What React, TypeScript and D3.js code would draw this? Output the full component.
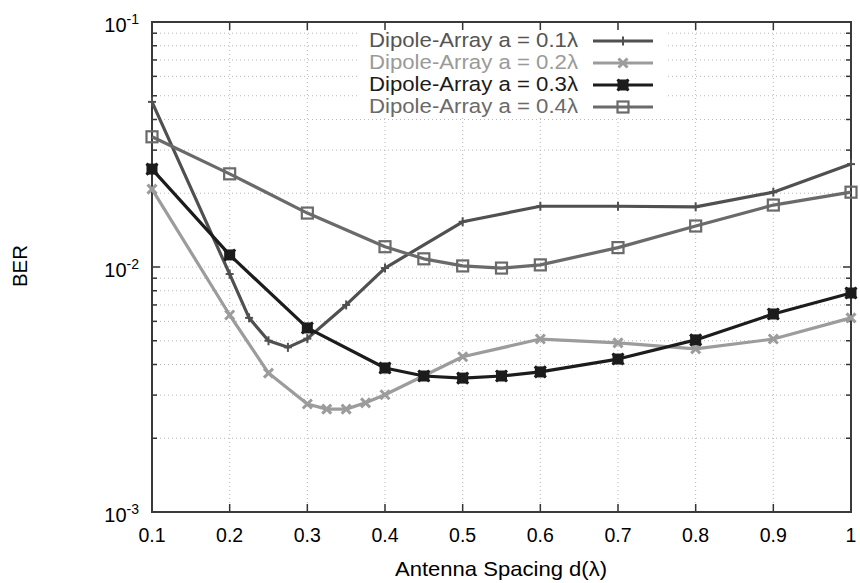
import React from 'react';
import * as d3 from 'd3';

const xs1 = [0.1, 0.2, 0.225, 0.25, 0.275, 0.3, 0.35, 0.4, 0.5, 0.6, 0.7, 0.8, 0.9, 1.0];
const ber1 = [0.0472, 0.00936, 0.0062, 0.005, 0.0047, 0.0051, 0.007, 0.0099, 0.0153, 0.0177, 0.0177, 0.0176, 0.0202, 0.0263];
const xs2 = [0.1, 0.2, 0.25, 0.3, 0.325, 0.35, 0.375, 0.4, 0.5, 0.6, 0.7, 0.8, 0.9, 1.0];
const ber2 = [0.0208, 0.00637, 0.00369, 0.00276, 0.00263, 0.00263, 0.00279, 0.00301, 0.0043, 0.00508, 0.0049, 0.00463, 0.00508, 0.0062];
const xs3 = [0.1, 0.2, 0.3, 0.4, 0.45, 0.5, 0.55, 0.6, 0.7, 0.8, 0.9, 1.0];
const ber3 = [0.0251, 0.0112, 0.00564, 0.00387, 0.00359, 0.00352, 0.00359, 0.00373, 0.00421, 0.00504, 0.00643, 0.00783];
const xs4 = [0.1, 0.2, 0.3, 0.4, 0.45, 0.5, 0.55, 0.6, 0.7, 0.8, 0.9, 1.0];
const ber4 = [0.034, 0.024, 0.0166, 0.0121, 0.0108, 0.0101, 0.0099, 0.0102, 0.012, 0.0147, 0.0179, 0.0202];

const seriesNames = ['0.1', '0.2', '0.3', '0.4'];
const xTicks = [0.1, 0.2, 0.3, 0.4, 0.5, 0.6, 0.7, 0.8, 0.9, 1];
const yExponents = [-1, -2, -3];

const W = 860;
const H = 583;
const left = 152, right = 851, top = 22, bottom = 512;
const font = '"Liberation Sans", Arial, sans-serif';

const series = [
  { xs: xs1, ys: ber1, color: '#505050', text: '#555', marker: 'plus' },
  { xs: xs2, ys: ber2, color: '#9c9c9c', text: '#9a9a9a', marker: 'cross' },
  { xs: xs3, ys: ber3, color: '#1c1c1c', text: '#1c1c1c', marker: 'star' },
  { xs: xs4, ys: ber4, color: '#6a6a6a', text: '#6a6a6a', marker: 'square' },
];

function Marker({ type, x, y, color }: { type: string; x: number; y: number; color: string }) {
  if (type === 'plus') {
    return (
      <g stroke={color} strokeWidth={2}>
        <line x1={x - 4} x2={x + 4} y1={y} y2={y} />
        <line x1={x} x2={x} y1={y - 4.5} y2={y + 4.5} />
      </g>
    );
  }
  if (type === 'cross') {
    return (
      <g stroke={color} strokeWidth={3}>
        <line x1={x - 4.5} x2={x + 4.5} y1={y - 4.5} y2={y + 4.5} />
        <line x1={x - 4.5} x2={x + 4.5} y1={y + 4.5} y2={y - 4.5} />
      </g>
    );
  }
  if (type === 'star') {
    return (
      <g stroke={color} strokeWidth={3} fill={color}>
        <rect x={x - 4} y={y - 4} width={8} height={8} />
        <line x1={x - 5.5} x2={x + 5.5} y1={y - 5.5} y2={y + 5.5} />
        <line x1={x - 5.5} x2={x + 5.5} y1={y + 5.5} y2={y - 5.5} />
      </g>
    );
  }
  return <rect x={x - 5.5} y={y - 5.5} width={11} height={11} fill="none" stroke={color} strokeWidth={2.2} />;
}

export default function App() {
  const x = d3.scaleLinear().domain([0.1, 1]).range([left, right]);
  const y = d3.scaleLog().domain([1e-3, 1e-1]).range([bottom, top]);

  const minor: number[] = [];
  [-3, -2].forEach((e) => {
    for (let m = 2; m <= 9; m++) minor.push(m * Math.pow(10, e));
  });

  const line = d3.line<[number, number]>().x((d) => x(d[0])).y((d) => y(d[1]));

  return (
    <svg width={W} height={H} style={{ position: 'fixed', left: 0, top: 0, background: '#fff' }}>
      {/* grid */}
      <g stroke="#b8b8b8" strokeWidth={1} strokeDasharray="1,3">
        {xTicks.slice(1, -1).map((t) => (
          <line key={'gx' + t} x1={x(t)} x2={x(t)} y1={top} y2={bottom} />
        ))}
        {minor.map((v) => (
          <line key={'gy' + v} x1={left} x2={right} y1={y(v)} y2={y(v)} />
        ))}
        <line x1={left} x2={right} y1={y(1e-2)} y2={y(1e-2)} />
      </g>

      {/* legend background hides the grid */}
      <rect x={360} y={29} width={306} height={88} fill="#fff" />

      {/* ticks */}
      <g stroke="#333" strokeWidth={1.5}>
        {xTicks.map((t) => (
          <g key={'tx' + t}>
            <line x1={x(t)} x2={x(t)} y1={bottom} y2={bottom - 8} />
            <line x1={x(t)} x2={x(t)} y1={top} y2={top + 8} />
          </g>
        ))}
        {yExponents.map((e) => (
          <g key={'ty' + e}>
            <line x1={left} x2={left + 8} y1={y(Math.pow(10, e))} y2={y(Math.pow(10, e))} />
            <line x1={right} x2={right - 8} y1={y(Math.pow(10, e))} y2={y(Math.pow(10, e))} />
          </g>
        ))}
        {minor.map((v) => (
          <g key={'tm' + v}>
            <line x1={left} x2={left + 5} y1={y(v)} y2={y(v)} />
            <line x1={right} x2={right - 5} y1={y(v)} y2={y(v)} />
          </g>
        ))}
      </g>

      {/* frame */}
      <rect x={left} y={top} width={right - left} height={bottom - top} fill="none" stroke="#3a3a3a" strokeWidth={2} />

      {/* tick labels */}
      <g fontFamily={font} fill="#000">
        {xTicks.map((t) => (
          <text key={'lx' + t} x={x(t)} y={542} textAnchor="middle" fontSize={19.5}>
            {t === 1 ? '1' : t.toFixed(1)}
          </text>
        ))}
        {yExponents.map((e) => (
          <text key={'ly' + e} x={139} y={y(Math.pow(10, e)) + 10} textAnchor="end" fontSize={20}>
            10<tspan fontSize={14} dy={-8}>{e}</tspan>
          </text>
        ))}
      </g>

      {/* axis titles */}
      <text x={501} y={576} textAnchor="middle" fontFamily={font} fontSize={21} textLength={212} lengthAdjust="spacingAndGlyphs">
        Antenna Spacing d(λ)
      </text>
      <text transform="translate(27,266) rotate(-90)" textAnchor="middle" fontFamily={font} fontSize={20.5}>
        BER
      </text>

      {/* series */}
      {series.map((s, i) => {
        const pts = s.xs.map((v, j) => [v, s.ys[j]] as [number, number]);
        return (
          <g key={'s' + i}>
            <path d={line(pts) || ''} fill="none" stroke={s.color} strokeWidth={3.2} strokeLinejoin="round" />
            {pts.map((p, j) => (
              <Marker key={j} type={s.marker} x={x(p[0])} y={y(p[1])} color={s.color} />
            ))}
          </g>
        );
      })}

      {/* legend */}
      {series.map((s, i) => {
        const ly = 41 + i * 22;
        return (
          <g key={'lg' + i}>
            <text x={578} y={ly + 6} textAnchor="end" fontFamily={font} fontSize={20.5} fill={s.text} textLength={209} lengthAdjust="spacingAndGlyphs">
              {`Dipole-Array a = ${seriesNames[i]}λ`}
            </text>
            <line x1={593} x2={653} y1={ly} y2={ly} stroke={s.color} strokeWidth={3.2} />
            <Marker type={s.marker} x={623} y={ly} color={s.color} />
          </g>
        );
      })}
    </svg>
  );
}
